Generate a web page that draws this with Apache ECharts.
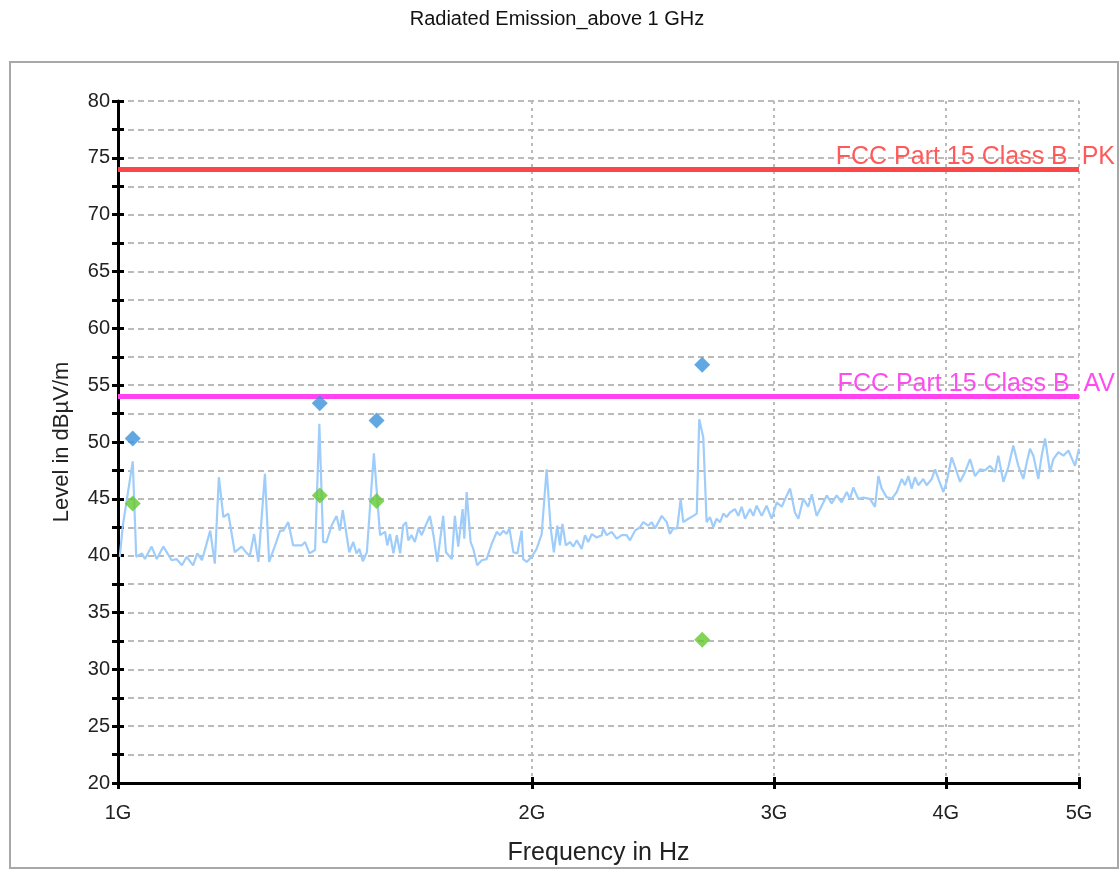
<!DOCTYPE html>
<html>
<head>
<meta charset="utf-8">
<title>Radiated Emission_above 1 GHz</title>
<script src="https://cdn.jsdelivr.net/npm/echarts@6/dist/echarts.min.js"></script>
<style>
  html, body { margin: 0; padding: 0; background: #ffffff; }
  #chart { width: 1120px; height: 871px; }
</style>
</head>
<body>
<div id="chart"></div>
<script>
// Measured spectrum (peak detector sweep), frequency in GHz / level in dBµV/m
const traceFreq = [
  1.003, 1.008, 1.025, 1.031, 1.041, 1.046, 1.058, 1.067, 1.079, 1.094,
  1.103, 1.113, 1.122, 1.134, 1.142, 1.151, 1.167, 1.176, 1.184, 1.193,
  1.203, 1.216, 1.230, 1.241, 1.247, 1.256, 1.265, 1.279, 1.288, 1.301,
  1.312, 1.319, 1.330, 1.341, 1.360, 1.368, 1.378, 1.391, 1.401, 1.410,
  1.418, 1.430, 1.442, 1.450, 1.457, 1.473, 1.483, 1.491, 1.498, 1.507,
  1.517, 1.535, 1.551, 1.564, 1.570, 1.577, 1.586, 1.595, 1.604, 1.612,
  1.620, 1.626, 1.635, 1.644, 1.654, 1.663, 1.672,
  1.686, 1.696, 1.707, 1.724, 1.732, 1.749, 1.758, 1.768, 1.781, 1.786,
  1.793, 1.805, 1.813, 1.825, 1.839, 1.854, 1.870, 1.886, 1.896, 1.907,
  1.917, 1.926, 1.939, 1.952, 1.966, 1.971, 1.983, 1.999, 2.016, 2.033,
  2.050, 2.064, 2.075, 2.087, 2.096, 2.105, 2.117, 2.132, 2.144, 2.156,
  2.174, 2.186, 2.198, 2.211, 2.229, 2.248, 2.254, 2.267, 2.286, 2.305,
  2.325, 2.344, 2.357, 2.377, 2.397, 2.410, 2.431, 2.444, 2.458, 2.472,
  2.486, 2.507, 2.520, 2.534, 2.551, 2.566, 2.577, 2.599, 2.621, 2.636,
  2.647, 2.665, 2.680, 2.695, 2.710, 2.725, 2.741, 2.756, 2.771, 2.787,
  2.810, 2.826, 2.842, 2.858,
  2.882, 2.898, 2.914, 2.939, 2.963, 2.988, 3.014, 3.039, 3.065, 3.082,
  3.107, 3.125, 3.151, 3.177, 3.196, 3.222, 3.250, 3.277, 3.304, 3.332,
  3.360, 3.389, 3.407, 3.426, 3.455, 3.484, 3.523, 3.553, 3.573, 3.593,
  3.623, 3.654, 3.685, 3.716, 3.736, 3.757, 3.778, 3.799, 3.820, 3.852,
  3.874, 3.907, 3.929, 3.951, 3.984, 4.006, 4.040, 4.063, 4.097, 4.131,
  4.166, 4.201, 4.236, 4.272, 4.308, 4.344, 4.368, 4.405, 4.442, 4.479,
  4.517, 4.555, 4.581, 4.606, 4.632, 4.671, 4.697, 4.724, 4.763, 4.790,
  4.830, 4.871, 4.912, 4.967, 5.000
];
const traceLevel = [
  39.9, 42.6, 48.3, 39.9, 40.2, 39.7, 40.8, 39.7, 40.8, 39.6,
  39.7, 39.15, 39.9, 39.15, 40.2, 39.6, 42.2, 39.3, 46.9, 43.4,
  43.7, 40.3, 40.8, 40.2, 40.0, 41.9, 39.45, 47.2, 39.45, 40.9,
  42.2, 42.2, 42.95, 40.9, 40.9, 41.2, 40.2, 40.5, 51.6, 41.2,
  41.2, 42.65, 43.5, 42.2, 44.0, 40.3, 41.2, 40.2, 40.6, 39.5,
  40.3, 49.0, 41.8, 42.1, 40.9, 41.9, 40.2, 41.8, 40.2, 42.65,
  42.95, 41.35, 41.8, 41.2, 42.4, 41.8, 42.5,
  43.5, 41.8, 39.45, 43.5, 40.3, 39.7, 43.5, 40.8, 44.1, 41.5,
  45.6, 41.2, 40.6, 39.15, 39.6, 39.7, 41.05, 42.1, 41.8, 42.2,
  41.9, 42.4, 40.3, 40.2, 42.2, 39.7, 39.45, 39.9, 40.6, 41.9,
  47.6, 42.4, 40.3, 42.65, 40.9, 42.8, 40.9, 41.2, 40.8, 41.35,
  40.6, 41.8, 41.2, 41.9, 41.6, 41.8, 42.4, 41.8, 42.1, 41.5,
  41.8, 41.8, 41.35, 42.2, 42.5, 42.95, 42.65, 42.95, 42.4, 42.95,
  43.5, 42.95, 41.9, 42.4, 42.4, 45.0, 42.95, 43.25, 43.5, 43.7,
  52.0, 50.4, 42.95, 43.4, 42.5, 43.25, 42.95, 43.7, 43.4, 43.8,
  44.1, 43.5, 44.3, 43.25,
  44.1, 43.5, 44.4, 43.5, 44.4, 43.25, 44.7, 44.3, 45.3, 45.9,
  43.8, 43.25, 45.0, 44.3, 45.4, 43.5, 44.4, 45.3, 44.6, 45.3,
  44.7, 45.6, 45.0, 46.0, 45.0, 45.1, 45.0, 44.3, 47.0, 45.9,
  45.15, 45.0, 45.6, 46.75, 46.2, 47.0, 45.9, 46.9, 46.2, 46.75,
  46.2, 46.75, 47.6, 46.75, 45.6, 46.5, 48.65, 47.8, 46.5, 47.35,
  48.5, 47.0, 47.6, 47.5, 47.9, 47.35, 48.8, 46.5, 47.8, 49.7,
  47.9, 46.75, 48.2, 49.4, 48.8, 46.75, 48.8, 50.3, 47.35, 48.5,
  49.1, 48.8, 49.25, 47.9, 49.4
];

// Final measurements: peak (blue) and average (green) readings
const finalFreq = [1.025, 1.402, 1.542, 2.660];
const peakLevel = [50.3, 53.4, 51.9, 56.8];
const avgLevel = [44.6, 45.3, 44.8, 32.6];

// Limit lines
const limitPK = 74;
const limitAV = 54;
const limitPKName = 'FCC Part 15 Class B  PK';
const limitAVName = 'FCC Part 15 Class B  AV';

// Axis ticks
const freqTicks = [1, 2, 3, 4, 5];
const levelMin = 20, levelMax = 80, levelStep = 2.5;

const pairs = (xs, ys) => xs.map((x, i) => [x, ys[i]]);

const FONT = '"Liberation Sans", Arial, sans-serif';
const GRID = { left: 118, right: 41, top: 101, bottom: 86 };

const chart = echarts.init(document.getElementById('chart'), null, { renderer: 'canvas' });

const xBase = {
  type: 'log', logBase: 10, min: 1, max: 5, gridIndex: 0, position: 'bottom'
};
const yBase = {
  type: 'value', min: levelMin, max: levelMax, interval: levelStep, position: 'left'
};

chart.setOption({
  animation: false,
  backgroundColor: '#ffffff',
  title: {
    text: 'Radiated Emission_above 1 GHz',
    left: 552, top: 4, textAlign: 'center',
    textStyle: { fontFamily: FONT, fontSize: 20, fontWeight: 'normal', color: '#111' }
  },
  graphic: [{
    type: 'rect', silent: true, z: -1,
    shape: { x: 10, y: 62, width: 1108, height: 806 },
    style: { fill: 'none', stroke: '#a8a8a8', lineWidth: 2 }
  }],
  grid: GRID,
  xAxis: [
    Object.assign({}, xBase, {
      name: 'Frequency in Hz', nameLocation: 'middle', nameGap: 58,
      nameTextStyle: { fontFamily: FONT, fontSize: 25, color: '#222' },
      axisLine: { show: true, lineStyle: { color: '#000', width: 3 } },
      axisTick: { show: true, inside: false, length: 6, customValues: freqTicks,
                  lineStyle: { color: '#000', width: 3 } },
      axisLabel: { customValues: freqTicks, margin: 20, formatter: v => v + 'G',
                   fontFamily: FONT, fontSize: 20, color: '#222' },
      splitLine: { show: true, lineStyle: { color: '#bbbbbb', width: 2, type: [3, 4] } }
    }),
    Object.assign({}, xBase, {
      axisLine: { show: false },
      axisTick: { show: true, inside: true, length: 6, customValues: freqTicks,
                  lineStyle: { color: '#000', width: 3 } },
      axisLabel: { show: false },
      splitLine: { show: false }
    })
  ],
  yAxis: [
    Object.assign({}, yBase, {
      name: 'Level in dBµV/m', nameLocation: 'middle', nameGap: 45,
      nameTextStyle: { fontFamily: FONT, fontSize: 22, color: '#222' },
      axisLine: { show: true, lineStyle: { color: '#000', width: 3 } },
      axisTick: { show: true, inside: false, length: 6, lineStyle: { color: '#000', width: 3 } },
      axisLabel: { margin: 8, fontFamily: FONT, fontSize: 20, color: '#222',
                   formatter: v => (v % 5 === 0 ? String(v) : '') },
      splitLine: { show: true, lineStyle: { color: '#bbbbbb', width: 2, type: [6, 4] } }
    }),
    Object.assign({}, yBase, {
      axisLine: { show: false },
      axisTick: { show: true, inside: true, length: 6, lineStyle: { color: '#000', width: 3 } },
      axisLabel: { show: false },
      splitLine: { show: false }
    })
  ],
  series: [
    {
      name: 'Spectrum', type: 'line', xAxisIndex: 0, yAxisIndex: 0,
      data: pairs(traceFreq, traceLevel),
      showSymbol: false, symbol: 'none',
      lineStyle: { color: '#9fcdfb', width: 2.2 },
      z: 3,
      markLine: {
        silent: true, symbol: 'none',
        data: [
          { yAxis: limitPK, lineStyle: { color: '#ff4646', width: 5, type: 'solid' },
            label: { formatter: limitPKName, color: '#ff5a5a' } },
          { yAxis: limitAV, lineStyle: { color: '#ff44f0', width: 5, type: 'solid' },
            label: { formatter: limitAVName, color: '#ff4cf0' } }
        ],
        label: { show: true, position: 'insideEndTop', distance: [-36, 0],
                 fontFamily: FONT, fontSize: 25 }
      }
    },
    {
      name: 'Peak', type: 'scatter', xAxisIndex: 0, yAxisIndex: 0,
      data: pairs(finalFreq, peakLevel),
      symbol: 'diamond', symbolSize: [16, 16],
      itemStyle: { color: '#3a92dc' }, z: 5
    },
    {
      name: 'Average', type: 'scatter', xAxisIndex: 0, yAxisIndex: 0,
      data: pairs(finalFreq, avgLevel),
      symbol: 'diamond', symbolSize: [16, 16],
      itemStyle: { color: '#63c92f' }, z: 5
    }
  ]
});
</script>
</body>
</html>
